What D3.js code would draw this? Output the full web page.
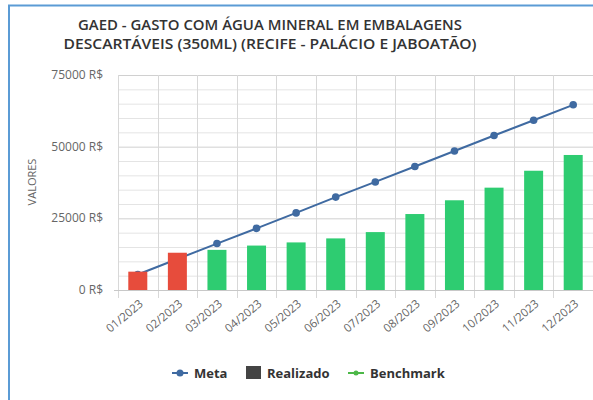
<!DOCTYPE html>
<html lang="pt">
<head>
  <meta charset="UTF-8" />
  <title>GAED - Gasto com água mineral</title>
  <script src="https://d3js.org/d3.v7.min.js"></script>
  <style>
    body { margin: 0; background: #fff; }
    svg { display: block; font-family: "Open Sans", sans-serif; }
  </style>
</head>
<body>
  <svg id="chart" width="593" height="400"></svg>
  <script>
    const months = ["01/2023", "02/2023", "03/2023", "04/2023", "05/2023", "06/2023",
                    "07/2023", "08/2023", "09/2023", "10/2023", "11/2023", "12/2023"];
    const meta = [5400, 10800, 16200, 21500, 26900, 32400, 37700, 43100, 48500, 53900, 59200, 64600];
    const realizado = [6400, 13000, 14000, 15500, 16600, 18000, 20200, 26500, 31300, 35700, 41600, 47100];
    const overMeta = [true, true, false, false, false, false, false, false, false, false, false, false];
    const yTicks = [0, 25000, 50000, 75000];
    const titleLines = ["GAED - GASTO COM ÁGUA MINERAL EM EMBALAGENS",
                        "DESCARTÁVEIS (350ML) (RECIFE - PALÁCIO E JABOATÃO)"];
    const legendItems = ["Meta", "Realizado", "Benchmark"];

    const colors = { meta: "#3f6aa1", red: "#e74c3c", green: "#2ecc71", real: "#444", bench: "#4cb848" };

    const svg = d3.select("#chart");
    const plotLeft = 118, plotRight = 593, plotTop = 75, plotBottom = 290;

    // frame
    svg.append("rect")
      .attr("x", 9).attr("y", 5.5).attr("width", 620).attr("height", 420)
      .attr("fill", "#fff").attr("stroke", "#5b9bd5").attr("stroke-width", 2);

    // title
    svg.append("g").selectAll("text")
      .data(titleLines)
      .join("text")
      .attr("x", 270)
      .attr("y", (d, i) => 29.5 + i * 19)
      .attr("text-anchor", "middle")
      .attr("font-size", 14)
      .attr("font-weight", 600)
      .attr("fill", "#333")
      .attr("textLength", (d, i) => i === 0 ? 384 : 413)
      .attr("lengthAdjust", "spacingAndGlyphs")
      .text(d => d);

    const x = d3.scaleBand().domain(months).range([plotLeft, plotRight]).padding(0);
    const y = d3.scaleLinear().domain([0, 75000]).range([plotBottom, plotTop]);

    // horizontal grid (minor every 5000, major at ticks)
    svg.append("g").selectAll("line")
      .data(d3.range(0, 75001, 5000))
      .join("line")
      .attr("x1", plotLeft).attr("x2", plotRight)
      .attr("y1", d => y(d) + 0.5).attr("y2", d => y(d) + 0.5)
      .attr("stroke", d => yTicks.includes(d) ? "#d0d0d0" : "#e4e4e4")
      .attr("stroke-width", 1);

    // vertical grid / ticks at band edges
    svg.append("g").selectAll("line")
      .data(months.map(m => x(m)).concat([plotRight]))
      .join("line")
      .attr("x1", d => Math.round(d) + 0.5).attr("x2", d => Math.round(d) + 0.5)
      .attr("y1", plotTop).attr("y2", plotBottom + 8)
      .attr("stroke", "#d8d8d8");

    // baseline
    svg.append("line")
      .attr("x1", plotLeft - 4).attr("x2", plotRight)
      .attr("y1", plotBottom + 0.5).attr("y2", plotBottom + 0.5)
      .attr("stroke", "#c8c8c8");

    // y labels
    svg.append("g").selectAll("text")
      .data(yTicks)
      .join("text")
      .attr("x", 103)
      .attr("y", d => y(d) + 4)
      .attr("text-anchor", "end")
      .attr("font-size", 12)
      .attr("fill", "#666")
      .text(d => d + " R$");

    svg.append("text")
      .attr("transform", "translate(36,182) rotate(-90)")
      .attr("text-anchor", "middle")
      .attr("font-size", 11)
      .attr("fill", "#666")
      .text("VALORES");

    // x labels
    svg.append("g").selectAll("text")
      .data(months)
      .join("text")
      .attr("transform", d => `translate(${x(d) + x.bandwidth() / 2 + 6},${plotBottom + 15}) rotate(-40)`)
      .attr("text-anchor", "end")
      .attr("font-size", 11.5)
      .attr("fill", "#666")
      .text(d => d);

    // meta line
    const line = d3.line()
      .x((d, i) => x(months[i]) + x.bandwidth() / 2)
      .y(d => y(d));
    svg.append("path")
      .datum(meta)
      .attr("d", line)
      .attr("fill", "none")
      .attr("stroke", colors.meta)
      .attr("stroke-width", 2);
    svg.append("g").selectAll("circle")
      .data(meta)
      .join("circle")
      .attr("cx", (d, i) => x(months[i]) + x.bandwidth() / 2)
      .attr("cy", d => y(d))
      .attr("r", 3.8)
      .attr("fill", colors.meta);

    // bars
    const bw = x.bandwidth() * 0.48;
    svg.append("g").selectAll("rect")
      .data(realizado)
      .join("rect")
      .attr("x", (d, i) => x(months[i]) + (x.bandwidth() - bw) / 2)
      .attr("y", d => y(d))
      .attr("width", bw)
      .attr("height", d => y(0) - y(d))
      .attr("fill", (d, i) => overMeta[i] ? colors.red : colors.green);

    // legend
    const lg = svg.append("g").attr("font-size", 13).attr("font-weight", 700).attr("fill", "#333");
    const legendX = [172, 246, 348];
    legendItems.forEach((name, i) => {
      const g = lg.append("g").attr("transform", `translate(${legendX[i]},373)`);
      if (i === 1) {
        g.append("rect").attr("x", 0).attr("y", -7).attr("width", 15).attr("height", 13).attr("fill", colors.real);
        g.append("text").attr("x", 21).attr("y", 4.5).text(name);
      } else {
        const c = i === 0 ? colors.meta : colors.bench;
        g.append("line").attr("x1", 0).attr("x2", 16).attr("y1", 0).attr("y2", 0)
          .attr("stroke", c).attr("stroke-width", 2);
        g.append("circle").attr("cx", 8).attr("cy", 0).attr("r", i === 0 ? 3.5 : 2.5).attr("fill", c);
        g.append("text").attr("x", 22).attr("y", 4.5).text(name);
      }
    });
  </script>
</body>
</html>
